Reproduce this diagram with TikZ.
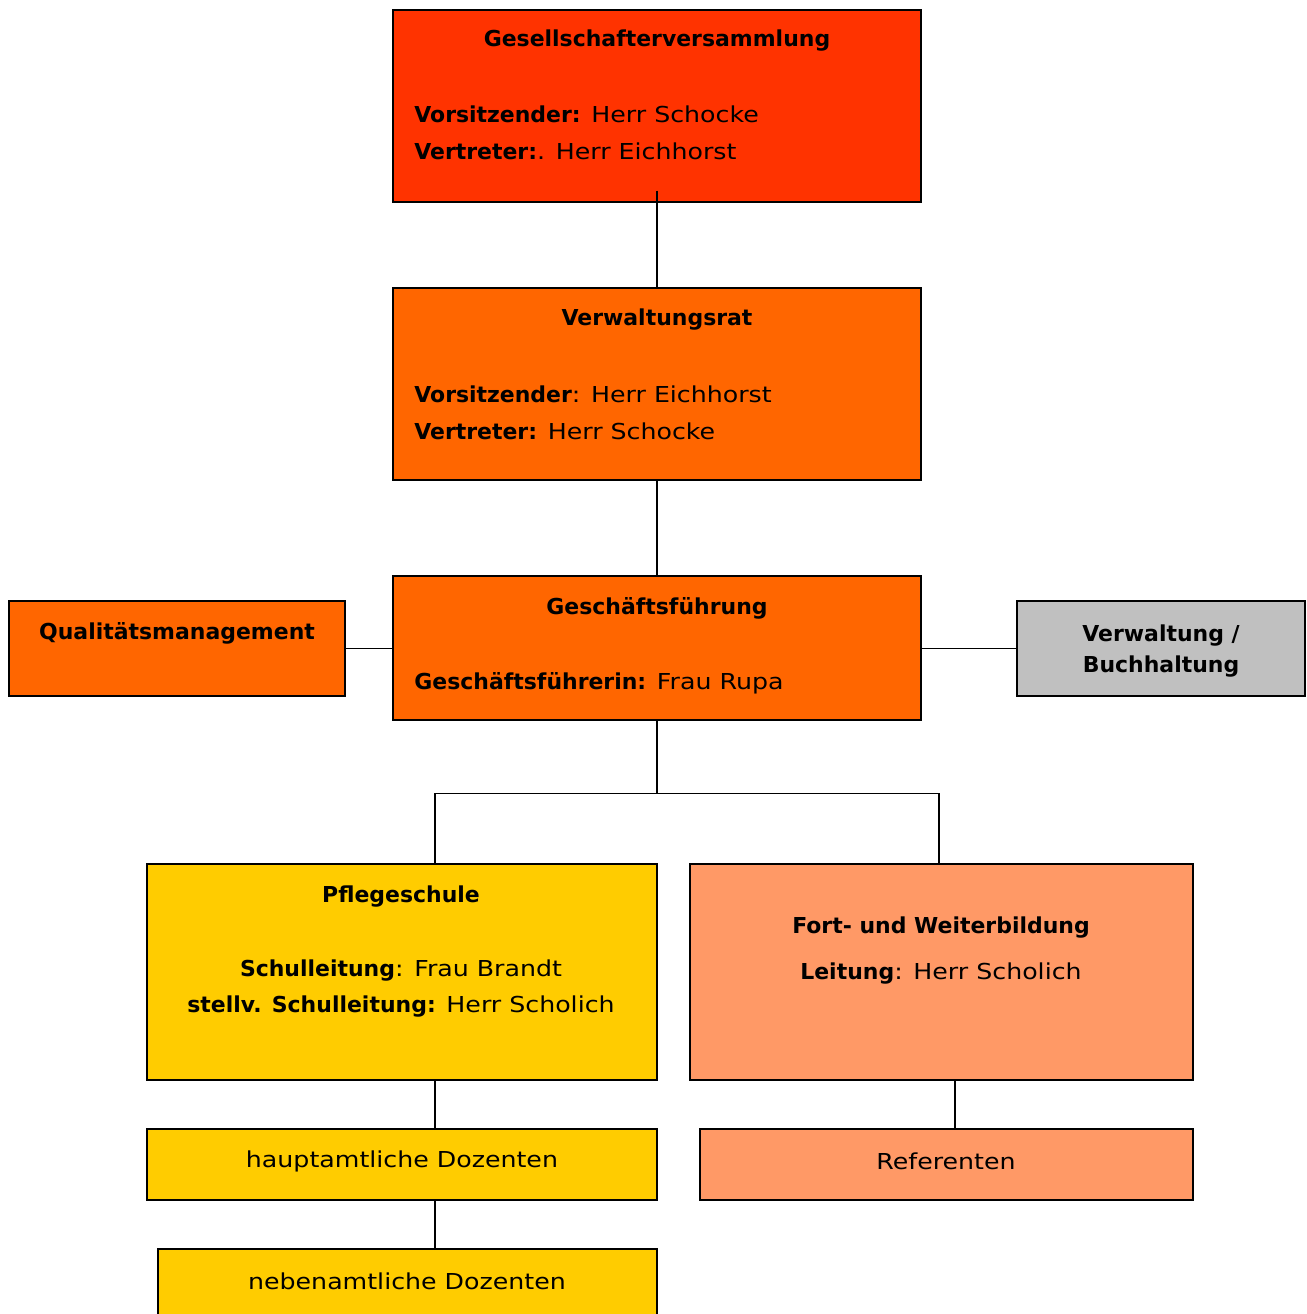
\documentclass[tikz,border=0pt]{standalone}
\usepackage{fontspec}
\setmainfont{DejaVu Sans}[UprightFeatures={FakeStretch=1.15}]
\usetikzlibrary{fit}

\definecolor{rotorange}{HTML}{FF3300}
\definecolor{orange}{HTML}{FF6600}
\definecolor{hellorange}{HTML}{FF9966}
\definecolor{gelb}{HTML}{FFCC00}
\definecolor{grau}{HTML}{C0C0C0}

\begin{document}
\begin{tikzpicture}[
    x=0.02cm, y=-0.02cm,
    orgbox/.style={draw, line width=0.8pt, inner sep=0pt},
    line/.style={line width=0.8pt},
    font=\fontsize{12.5}{15}\selectfont
]

\useasboundingbox (0,0) rectangle (1306,1314);

% Kästen
\node[orgbox, fill=rotorange, fit={(393,10) (921,202)}] (gv) {};
\node[orgbox, fill=orange, fit={(393,288) (921,480)}] (vr) {};
\node[orgbox, fill=orange, fit={(393,576) (921,720)}] (gf) {};
\node[orgbox, fill=orange, fit={(9,601) (345,696)}] (qm) {};
\node[orgbox, fill=grau, fit={(1017,601) (1305,696)}] (vb) {};
\node[orgbox, fill=gelb, fit={(147,864) (657,1080)}] (ps) {};
\node[orgbox, fill=hellorange, fit={(690,864) (1193,1080)}] (fw) {};
\node[orgbox, fill=gelb, fit={(147,1129) (657,1200)}] (ha) {};
\node[orgbox, fill=hellorange, fit={(700,1129) (1193,1200)}] (ref) {};
\node[orgbox, fill=gelb, fit={(158,1249) (657,1340)}] (nb) {};

% Texte
\node (gvtitel) at (657,41) {\textbf{Gesellschafterversammlung}};
\node[anchor=west, inner xsep=0pt] (gvvors) at (414,114) {\textbf{Vorsitzender:} Herr Schocke};
\node[anchor=west, inner xsep=0pt] (gvvert) at (414,151) {\textbf{Vertreter:}. Herr Eichhorst};

\node (vrtitel) at (657,320) {\textbf{Verwaltungsrat}};
\node[anchor=west, inner xsep=0pt] (vrvors) at (414,394) {\textbf{Vorsitzender}: Herr Eichhorst};
\node[anchor=west, inner xsep=0pt] (vrvert) at (414,431) {\textbf{Vertreter:} Herr Schocke};

\node (gftitel) at (657,608) {\textbf{Geschäftsführung}};
\node[anchor=west, inner xsep=0pt] (gfname) at (414,683) {\textbf{Geschäftsführerin:} Frau Rupa};

\node (qmtitel) at (177,633) {\textbf{Qualitätsmanagement}};
\node[align=center] (vbtitel) at (1161,651) {\textbf{Verwaltung /}\\[3pt]\textbf{Buchhaltung}};

\node (pstitel) at (401,897) {\textbf{Pflegeschule}};
\node (psleit) at (401,971) {\textbf{Schulleitung}: Frau Brandt};
\node (psstell) at (401,1007) {\textbf{stellv. Schulleitung:} Herr Scholich};

\node (fwtitel) at (941,928) {\textbf{Fort- und Weiterbildung}};
\node (fwleit) at (941,974) {\textbf{Leitung}: Herr Scholich};

\node (hatext) at (402,1161) {hauptamtliche Dozenten};
\node (reftext) at (946,1161) {Referenten};
\node (nbtext) at (407,1281) {nebenamtliche Dozenten};

% Verbindungen
\draw[line] ([yshift=0.24cm]gv.south) -- (vr.north);
\draw[line] (vr.south) -- (gf.north);
\draw[line] (gf.west |- qm.east) -- (qm.east);
\draw[line] (gf.east |- vb.west) -- (vb.west);
\draw[line] (gf.south) -- ++(0,73) coordinate (bus);
\draw[line] ([xshift=0.66cm]ps.north) |- (bus) -| ([xshift=-0.05cm]fw.north);
\draw[line] ([xshift=0.66cm]ps.south) -- ([xshift=0.66cm]ha.north);
\draw[line] ([xshift=0.66cm]ha.south) -- ([xshift=0.66cm]ha.south |- nb.north);
\draw[line] ([xshift=0.27cm]fw.south) -- ([xshift=0.27cm]fw.south |- ref.north);

\end{tikzpicture}
\end{document}
